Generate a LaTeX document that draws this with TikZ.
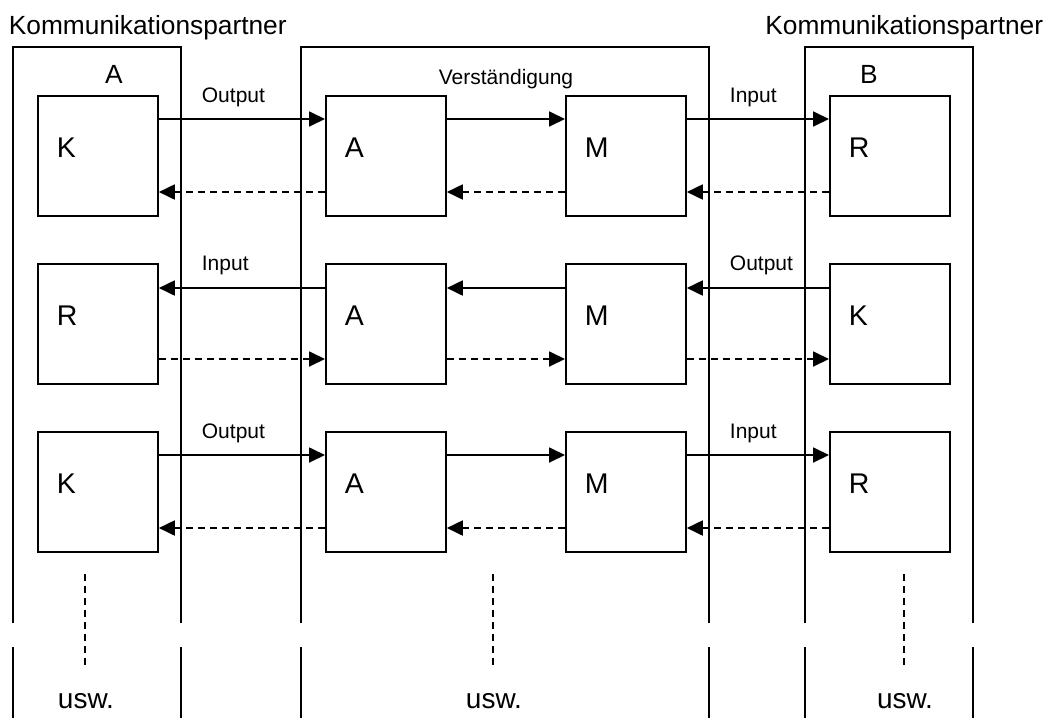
\documentclass[tikz,border=0pt]{standalone}
\usepackage{fontspec}
\setmainfont{Liberation Sans}
\usetikzlibrary{arrows.meta}
\begin{document}
\begin{tikzpicture}[x=1pt,y=-1pt,line width=1.8pt,
  box/.style={draw,minimum width=120pt,minimum height=120pt,inner sep=0pt,anchor=north west},
  big/.style={inner sep=0pt,anchor=base west,font=\fontsize{28.5}{30}\selectfont},
  hdr/.style={inner sep=0pt,anchor=base,font=\fontsize{26.3}{28}\selectfont},
  lab/.style={inner sep=0pt,anchor=base west,font=\fontsize{21}{24}\selectfont},
  usw/.style={inner sep=0pt,anchor=base,font=\fontsize{28}{30}\selectfont},
  sol/.style={-{Triangle[length=16pt,width=15pt]}},
  dsh/.style={sol,dash pattern=on 7pt off 5pt},
  vdots/.style={dash pattern=on 7pt off 5pt}]
\useasboundingbox (0,0) rectangle (1048,718);

% column frames
\draw (13,623) -- (13,47) -- (181,47) -- (181,623);
\draw (13,647) -- (13,718);
\draw (181,647) -- (181,718);
\draw (301,623) -- (301,47) -- (709,47) -- (709,623);
\draw (301,647) -- (301,718);
\draw (709,647) -- (709,718);
\draw (805,623) -- (805,47) -- (973,47) -- (973,623);
\draw (805,647) -- (805,718);
\draw (973,647) -- (973,718);

% headers
\node[hdr,anchor=base west] (hl) at (8,34) {Kommunikationspartner};
\node[hdr,anchor=base east] (hr) at (1044,34) {Kommunikationspartner};
\node[hdr] (ha) at (114,83) {A};
\node[hdr] (hb) at (869,83) {B};
\node[lab,anchor=base] (hv) at (506,84) {Verständigung};

% boxes
\foreach \r/\t in {1/95,2/263,3/431}{
  \node[box] (l\r) at (37,\t) {};
  \node[box] (a\r) at (325,\t) {};
  \node[box] (m\r) at (565,\t) {};
  \node[box] (r\r) at (829,\t) {};
  \node[big] (ta\r) at (344,\t+62) {A};
  \node[big] (tm\r) at (584,\t+62) {M};
}
\node[big] (tl1) at (56,157) {K};
\node[big] (tr1) at (848,157) {R};
\node[big] (tl2) at (56,325) {R};
\node[big] (tr2) at (848,325) {K};
\node[big] (tl3) at (56,493) {K};
\node[big] (tr3) at (848,493) {R};

% row 1 and row 3
\foreach \r in {1,3}{
  \draw[sol] ([yshift=-24pt]l\r.north east) -- ([yshift=-24pt]a\r.north west);
  \draw[sol] ([yshift=-24pt]a\r.north east) -- ([yshift=-24pt]m\r.north west);
  \draw[sol] ([yshift=-24pt]m\r.north east) -- ([yshift=-24pt]r\r.north west);
  \draw[dsh] ([yshift=-97pt]r\r.north west) -- ([yshift=-97pt]m\r.north east);
  \draw[dsh] ([yshift=-97pt]m\r.north west) -- ([yshift=-97pt]a\r.north east);
  \draw[dsh] ([yshift=-97pt]a\r.north west) -- ([yshift=-97pt]l\r.north east);
}
% row 2
\draw[sol] ([yshift=-25pt]r2.north west) -- ([yshift=-25pt]m2.north east);
\draw[sol] ([yshift=-25pt]m2.north west) -- ([yshift=-25pt]a2.north east);
\draw[sol] ([yshift=-25pt]a2.north west) -- ([yshift=-25pt]l2.north east);
\draw[dsh] ([yshift=-96pt]l2.north east) -- ([yshift=-96pt]a2.north west);
\draw[dsh] ([yshift=-96pt]a2.north east) -- ([yshift=-96pt]m2.north west);
\draw[dsh] ([yshift=-96pt]m2.north east) -- ([yshift=-96pt]r2.north west);

% edge labels
\node[lab] (o1) at (201,102) {Output};
\node[lab] (i1) at (729,102) {Input};
\node[lab] (i2) at (201,270) {Input};
\node[lab] (o2) at (729,270) {Output};
\node[lab] (o3) at (201,438) {Output};
\node[lab] (i3) at (729,438) {Input};

% continuation
\coordinate (d1a) at (85,574); \coordinate (d1b) at (85,667);
\coordinate (d2a) at (493,574); \coordinate (d2b) at (493,667);
\coordinate (d3a) at (904,574); \coordinate (d3b) at (904,667);
\draw[vdots] (d1a) -- (d1b);
\draw[vdots] (d2a) -- (d2b);
\draw[vdots] (d3a) -- (d3b);
\node[usw] (u1) at (86,708) {usw.};
\node[usw] (u2) at (494,708) {usw.};
\node[usw] (u3) at (905,708) {usw.};
\end{tikzpicture}
\end{document}
